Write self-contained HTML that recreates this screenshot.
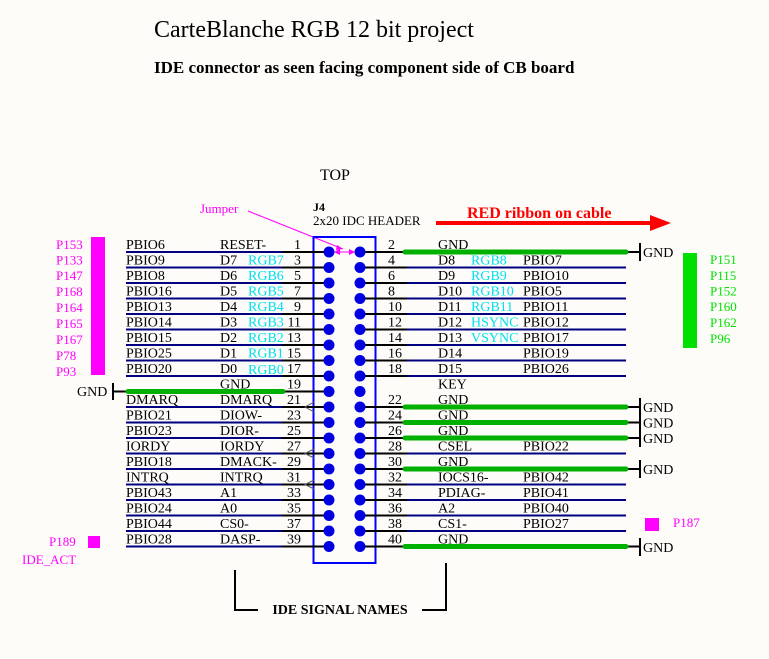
<!DOCTYPE html>
<html><head><meta charset="utf-8"><style>
html,body{margin:0;padding:0;background:#fefcf9;}
svg{display:block;}
text{font-family:"Liberation Serif",serif;}
.t{font-size:14px;fill:#000;}
.c{font-size:14px;fill:#00e0f0;}
.m{font-size:13px;fill:#ff00ff;}
.g{font-size:13px;fill:#00e000;}
</style></head><body>
<svg width="769" height="659" viewBox="0 0 769 659" xmlns="http://www.w3.org/2000/svg">
<rect width="769" height="659" fill="#fefcf9"/>
<text x="154" y="37" style="font-size:24px">CarteBlanche RGB 12 bit project</text>
<text x="154" y="73" style="font-size:17px;font-weight:bold">IDE connector as seen facing component side of CB board</text>
<text x="320" y="180" style="font-size:16px">TOP</text>
<text x="313" y="211" style="font-size:12px;font-weight:bold">J4</text>
<text x="313" y="225" style="font-size:13px">2x20 IDC HEADER</text>
<text x="467" y="218" style="font-size:16px;font-weight:bold;fill:#ff0000">RED ribbon on cable</text>
<line x1="436" y1="223" x2="652" y2="223" stroke="#ff0000" stroke-width="4"/>
<polygon points="650,215 671,223 650,231" fill="#ff0000"/>
<text x="200" y="213" class="m">Jumper</text>
<line x1="248" y1="211" x2="343" y2="249" stroke="#ff00ff" stroke-width="1"/>
<polygon points="343,249 337,245 336,250" fill="#ff00ff"/>
<line x1="336" y1="252" x2="353" y2="252" stroke="#ff00ff" stroke-width="1"/>
<polygon points="334,252 340,249 340,255" fill="#ff00ff"/>
<polygon points="355,252 349,249 349,255" fill="#ff00ff"/>

<rect x="313.5" y="237" width="62" height="326" fill="none" stroke="#0000ff" stroke-width="2"/>

<g id="rows">
<g stroke-width="2">
<g stroke="#000080">
<line x1="126" y1="252" x2="282" y2="252"/><line x1="126" y1="267.5" x2="282" y2="267.5"/><line x1="126" y1="283" x2="282" y2="283"/><line x1="126" y1="298.5" x2="282" y2="298.5"/><line x1="126" y1="314" x2="282" y2="314"/><line x1="126" y1="329.5" x2="282" y2="329.5"/><line x1="126" y1="345" x2="282" y2="345"/><line x1="126" y1="360.5" x2="282" y2="360.5"/><line x1="126" y1="376" x2="282" y2="376"/>
<line x1="126" y1="407" x2="282" y2="407"/><line x1="126" y1="422.5" x2="282" y2="422.5"/><line x1="126" y1="438" x2="282" y2="438"/><line x1="126" y1="453.5" x2="282" y2="453.5"/><line x1="126" y1="469" x2="282" y2="469"/><line x1="126" y1="484.5" x2="282" y2="484.5"/><line x1="126" y1="500" x2="282" y2="500"/><line x1="126" y1="515.5" x2="282" y2="515.5"/><line x1="126" y1="531" x2="282" y2="531"/><line x1="126" y1="546.5" x2="282" y2="546.5"/>
</g>
<g stroke="#000">
<line x1="282" y1="252" x2="329" y2="252"/><line x1="282" y1="267.5" x2="329" y2="267.5"/><line x1="282" y1="283" x2="329" y2="283"/><line x1="282" y1="298.5" x2="329" y2="298.5"/><line x1="282" y1="314" x2="329" y2="314"/><line x1="282" y1="329.5" x2="329" y2="329.5"/><line x1="282" y1="345" x2="329" y2="345"/><line x1="282" y1="360.5" x2="329" y2="360.5"/><line x1="282" y1="376" x2="329" y2="376"/><line x1="282" y1="391.5" x2="329" y2="391.5"/><line x1="282" y1="407" x2="329" y2="407"/><line x1="282" y1="422.5" x2="329" y2="422.5"/><line x1="282" y1="438" x2="329" y2="438"/><line x1="282" y1="453.5" x2="329" y2="453.5"/><line x1="282" y1="469" x2="329" y2="469"/><line x1="282" y1="484.5" x2="329" y2="484.5"/><line x1="282" y1="500" x2="329" y2="500"/><line x1="282" y1="515.5" x2="329" y2="515.5"/><line x1="282" y1="531" x2="329" y2="531"/><line x1="282" y1="546.5" x2="329" y2="546.5"/>
<line x1="360" y1="252" x2="407" y2="252"/><line x1="360" y1="267.5" x2="407" y2="267.5"/><line x1="360" y1="283" x2="407" y2="283"/><line x1="360" y1="298.5" x2="407" y2="298.5"/><line x1="360" y1="314" x2="407" y2="314"/><line x1="360" y1="329.5" x2="407" y2="329.5"/><line x1="360" y1="345" x2="407" y2="345"/><line x1="360" y1="360.5" x2="407" y2="360.5"/><line x1="360" y1="376" x2="407" y2="376"/><line x1="360" y1="407" x2="407" y2="407"/><line x1="360" y1="422.5" x2="407" y2="422.5"/><line x1="360" y1="438" x2="407" y2="438"/><line x1="360" y1="453.5" x2="407" y2="453.5"/><line x1="360" y1="469" x2="407" y2="469"/><line x1="360" y1="484.5" x2="407" y2="484.5"/><line x1="360" y1="500" x2="407" y2="500"/><line x1="360" y1="515.5" x2="407" y2="515.5"/><line x1="360" y1="531" x2="407" y2="531"/><line x1="360" y1="546.5" x2="407" y2="546.5"/>
<line x1="114" y1="391.5" x2="126" y2="391.5"/>
<line x1="626" y1="252" x2="640" y2="252"/><line x1="626" y1="407" x2="640" y2="407"/><line x1="626" y1="422.5" x2="640" y2="422.5"/><line x1="626" y1="438" x2="640" y2="438"/><line x1="626" y1="469" x2="640" y2="469"/><line x1="626" y1="546.5" x2="640" y2="546.5"/>
<line x1="113" y1="383" x2="113" y2="400"/>
<line x1="640" y1="243" x2="640" y2="261"/><line x1="640" y1="398" x2="640" y2="447"/><line x1="640" y1="460" x2="640" y2="478"/><line x1="640" y1="538" x2="640" y2="556"/>
</g>
<g stroke="#000080">
<line x1="407" y1="267.5" x2="626" y2="267.5"/><line x1="407" y1="283" x2="626" y2="283"/><line x1="407" y1="298.5" x2="626" y2="298.5"/><line x1="407" y1="314" x2="626" y2="314"/><line x1="407" y1="329.5" x2="626" y2="329.5"/><line x1="407" y1="345" x2="626" y2="345"/><line x1="407" y1="360.5" x2="626" y2="360.5"/><line x1="407" y1="376" x2="626" y2="376"/><line x1="407" y1="453.5" x2="626" y2="453.5"/><line x1="407" y1="484.5" x2="626" y2="484.5"/><line x1="407" y1="500" x2="626" y2="500"/><line x1="407" y1="515.5" x2="626" y2="515.5"/><line x1="407" y1="531" x2="626" y2="531"/>
</g>
</g>
<g stroke="#00b000" stroke-width="5" stroke-linecap="round">
<line x1="128" y1="391.5" x2="283" y2="391.5"/>
<line x1="405" y1="252" x2="626" y2="252"/><line x1="405" y1="407" x2="626" y2="407"/><line x1="405" y1="422.5" x2="626" y2="422.5"/><line x1="405" y1="438" x2="626" y2="438"/><line x1="405" y1="469" x2="626" y2="469"/><line x1="405" y1="546.5" x2="626" y2="546.5"/>
</g>
<g fill="none" stroke="#555" stroke-width="1">
<polyline points="314,402 305,407 314,412"/><polyline points="314,449 305,453.5 314,458"/><polyline points="314,480 305,484.5 314,489"/>
</g>
<g fill="#0000e0">
<circle cx="329" cy="252" r="5.5"/><circle cx="329" cy="267.5" r="5.5"/><circle cx="329" cy="283" r="5.5"/><circle cx="329" cy="298.5" r="5.5"/><circle cx="329" cy="314" r="5.5"/><circle cx="329" cy="329.5" r="5.5"/><circle cx="329" cy="345" r="5.5"/><circle cx="329" cy="360.5" r="5.5"/><circle cx="329" cy="376" r="5.5"/><circle cx="329" cy="391.5" r="5.5"/><circle cx="329" cy="407" r="5.5"/><circle cx="329" cy="422.5" r="5.5"/><circle cx="329" cy="438" r="5.5"/><circle cx="329" cy="453.5" r="5.5"/><circle cx="329" cy="469" r="5.5"/><circle cx="329" cy="484.5" r="5.5"/><circle cx="329" cy="500" r="5.5"/><circle cx="329" cy="515.5" r="5.5"/><circle cx="329" cy="531" r="5.5"/><circle cx="329" cy="546.5" r="5.5"/>
<circle cx="360" cy="252" r="5.5"/><circle cx="360" cy="267.5" r="5.5"/><circle cx="360" cy="283" r="5.5"/><circle cx="360" cy="298.5" r="5.5"/><circle cx="360" cy="314" r="5.5"/><circle cx="360" cy="329.5" r="5.5"/><circle cx="360" cy="345" r="5.5"/><circle cx="360" cy="360.5" r="5.5"/><circle cx="360" cy="376" r="5.5"/><circle cx="360" cy="391.5" r="5.5"/><circle cx="360" cy="407" r="5.5"/><circle cx="360" cy="422.5" r="5.5"/><circle cx="360" cy="438" r="5.5"/><circle cx="360" cy="453.5" r="5.5"/><circle cx="360" cy="469" r="5.5"/><circle cx="360" cy="484.5" r="5.5"/><circle cx="360" cy="500" r="5.5"/><circle cx="360" cy="515.5" r="5.5"/><circle cx="360" cy="531" r="5.5"/><circle cx="360" cy="546.5" r="5.5"/>
</g>
</g>

<g class="t">
<text x="126" y="249">PBIO6</text><text x="126" y="264.5">PBIO9</text><text x="126" y="280">PBIO8</text><text x="126" y="295.5">PBIO16</text><text x="126" y="311">PBIO13</text><text x="126" y="326.5">PBIO14</text><text x="126" y="342">PBIO15</text><text x="126" y="357.5">PBIO25</text><text x="126" y="373">PBIO20</text>
<text x="126" y="404">DMARQ</text><text x="126" y="419.5">PBIO21</text><text x="126" y="435">PBIO23</text><text x="126" y="450.5">IORDY</text><text x="126" y="466">PBIO18</text><text x="126" y="481.5">INTRQ</text><text x="126" y="497">PBIO43</text><text x="126" y="512.5">PBIO24</text><text x="126" y="528">PBIO44</text><text x="126" y="543.5">PBIO28</text>
<text x="220" y="249">RESET-</text><text x="220" y="264.5">D7</text><text x="220" y="280">D6</text><text x="220" y="295.5">D5</text><text x="220" y="311">D4</text><text x="220" y="326.5">D3</text><text x="220" y="342">D2</text><text x="220" y="357.5">D1</text><text x="220" y="373">D0</text><text x="220" y="388.5">GND</text>
<text x="220" y="404">DMARQ</text><text x="220" y="419.5">DIOW-</text><text x="220" y="435">DIOR-</text><text x="220" y="450.5">IORDY</text><text x="220" y="466">DMACK-</text><text x="220" y="481.5">INTRQ</text><text x="220" y="497">A1</text><text x="220" y="512.5">A0</text><text x="220" y="528">CS0-</text><text x="220" y="543.5">DASP-</text>
</g>
<g class="t" text-anchor="end">
<text x="301" y="249">1</text><text x="301" y="264.5">3</text><text x="301" y="280">5</text><text x="301" y="295.5">7</text><text x="301" y="311">9</text><text x="301" y="326.5">11</text><text x="301" y="342">13</text><text x="301" y="357.5">15</text><text x="301" y="373">17</text><text x="301" y="388.5">19</text><text x="301" y="404">21</text><text x="301" y="419.5">23</text><text x="301" y="435">25</text><text x="301" y="450.5">27</text><text x="301" y="466">29</text><text x="301" y="481.5">31</text><text x="301" y="497">33</text><text x="301" y="512.5">35</text><text x="301" y="528">37</text><text x="301" y="543.5">39</text>
</g>
<g class="c">
<text x="248" y="264.5">RGB7</text><text x="248" y="280">RGB6</text><text x="248" y="295.5">RGB5</text><text x="248" y="311">RGB4</text><text x="248" y="326.5">RGB3</text><text x="248" y="342">RGB2</text><text x="248" y="357.5">RGB1</text><text x="248" y="374">RGB0</text>
<text x="471" y="264.5">RGB8</text><text x="471" y="280">RGB9</text><text x="471" y="295.5">RGB10</text><text x="471" y="311">RGB11</text><text x="471" y="326.5">HSYNC</text><text x="471" y="342">VSYNC</text>
</g>
<g class="t">
<text x="388" y="249">2</text><text x="388" y="264.5">4</text><text x="388" y="280">6</text><text x="388" y="295.5">8</text><text x="388" y="311">10</text><text x="388" y="326.5">12</text><text x="388" y="342">14</text><text x="388" y="357.5">16</text><text x="388" y="373">18</text>
<text x="388" y="404">22</text><text x="388" y="419.5">24</text><text x="388" y="435">26</text><text x="388" y="450.5">28</text><text x="388" y="466">30</text><text x="388" y="481.5">32</text><text x="388" y="497">34</text><text x="388" y="512.5">36</text><text x="388" y="528">38</text><text x="388" y="543.5">40</text>
<text x="438" y="249">GND</text><text x="438" y="264.5">D8</text><text x="438" y="280">D9</text><text x="438" y="295.5">D10</text><text x="438" y="311">D11</text><text x="438" y="326.5">D12</text><text x="438" y="342">D13</text><text x="438" y="357.5">D14</text><text x="438" y="373">D15</text><text x="438" y="388.5">KEY</text>
<text x="438" y="404">GND</text><text x="438" y="419.5">GND</text><text x="438" y="435">GND</text><text x="438" y="450.5">CSEL</text><text x="438" y="466">GND</text><text x="438" y="481.5">IOCS16-</text><text x="438" y="497">PDIAG-</text><text x="438" y="512.5">A2</text><text x="438" y="528">CS1-</text><text x="438" y="543.5">GND</text>
<text x="523" y="264.5">PBIO7</text><text x="523" y="280">PBIO10</text><text x="523" y="295.5">PBIO5</text><text x="523" y="311">PBIO11</text><text x="523" y="326.5">PBIO12</text><text x="523" y="342">PBIO17</text><text x="523" y="357.5">PBIO19</text><text x="523" y="373">PBIO26</text>
<text x="523" y="450.5">PBIO22</text><text x="523" y="481.5">PBIO42</text><text x="523" y="497">PBIO41</text><text x="523" y="512.5">PBIO40</text><text x="523" y="528">PBIO27</text>
<text x="643" y="257">GND</text><text x="643" y="412">GND</text><text x="643" y="427.5">GND</text><text x="643" y="443">GND</text><text x="643" y="474">GND</text><text x="643" y="552">GND</text>
<text x="77" y="396">GND</text>
</g>

<rect x="91" y="237" width="14" height="138" fill="#ff00ff"/>
<g class="m">
<text x="56" y="249">P153</text><text x="56" y="264.5">P133</text><text x="56" y="280">P147</text><text x="56" y="296">P168</text><text x="56" y="312">P164</text><text x="56" y="328">P165</text><text x="56" y="344">P167</text><text x="56" y="360">P78</text><text x="56" y="376">P93</text>
<text x="49" y="546">P189</text><text x="22" y="564">IDE_ACT</text><text x="673" y="527">P187</text>
</g>
<rect x="88" y="536" width="12" height="12" fill="#ff00ff"/>
<rect x="645" y="518" width="14" height="13" fill="#ff00ff"/>
<rect x="683" y="253" width="14" height="95" fill="#00e000"/>
<g class="g">
<text x="710" y="264">P151</text><text x="710" y="280">P115</text><text x="710" y="295.5">P152</text><text x="710" y="311">P160</text><text x="710" y="327">P162</text><text x="710" y="343">P96</text>
</g>

<g stroke="#000" stroke-width="2" fill="none">
<polyline points="235,570 235,610 258,610"/>
<polyline points="422,610 446,610 446,563"/>
</g>
<text x="340" y="614" text-anchor="middle" style="font-size:14px;font-weight:bold">IDE SIGNAL NAMES</text>
</svg>
</body></html>
